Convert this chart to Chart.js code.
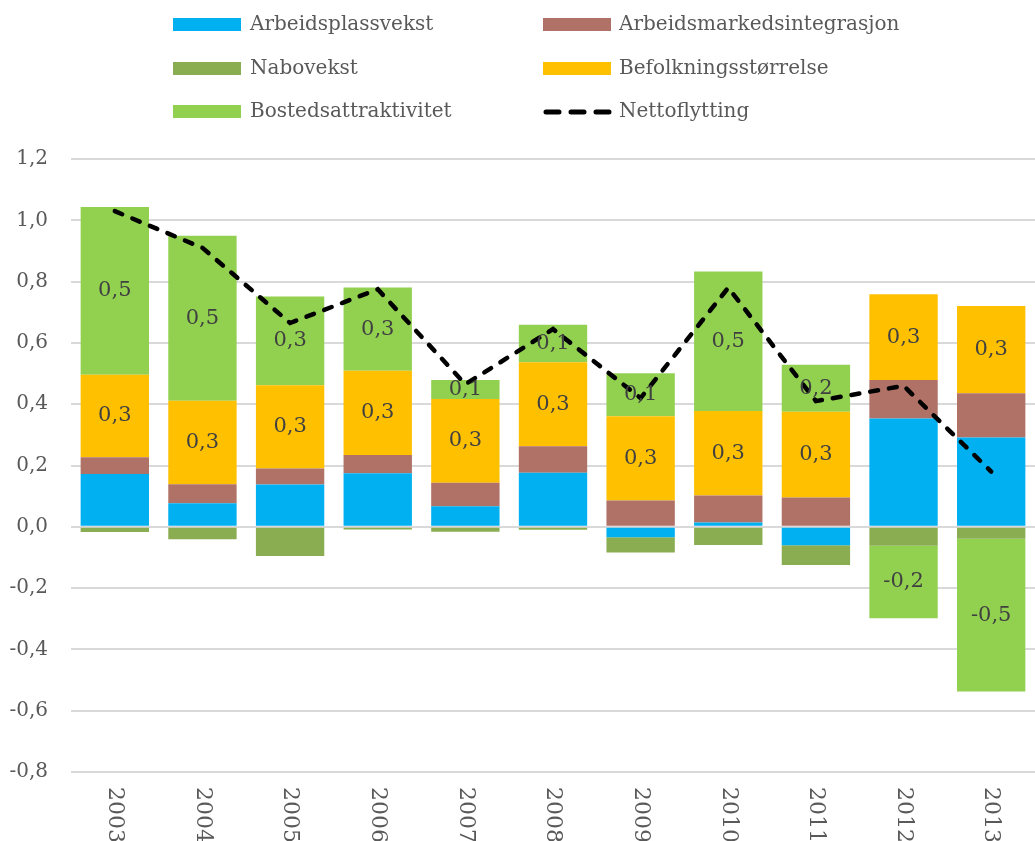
<!DOCTYPE html>
<html>
<head>
<meta charset="utf-8">
<title>Nettoflytting</title>
<script src="https://cdn.jsdelivr.net/npm/chart.js@4.4.1/dist/chart.umd.min.js"></script>
<style>
    html, body { margin: 0; padding: 0; background: #ffffff; }
    canvas { display: block; }
</style>
</head>
<body>
<canvas id="chart" width="1035" height="841"></canvas>
<script>
// Data
const years = ['2003', '2004', '2005', '2006', '2007', '2008', '2009', '2010', '2011', '2012', '2013'];
const arbeidsplassvekst = [0.172, 0.077, 0.138, 0.175, 0.067, 0.176, -0.034, 0.014, -0.060, 0.353, 0.291];
const arbeidsmarkedsintegrasjon = [0.055, 0.062, 0.052, 0.059, 0.077, 0.087, 0.086, 0.088, 0.096, 0.126, 0.145];
const nabovekst = [-0.017, -0.041, -0.095, -0.009, -0.016, -0.010, -0.050, -0.059, -0.065, -0.062, -0.039];
const befolkningsstorrelse = [0.269, 0.272, 0.272, 0.275, 0.273, 0.274, 0.275, 0.276, 0.279, 0.280, 0.284];
const bostedsattraktivitet = [0.547, 0.539, 0.289, 0.272, 0.062, 0.122, 0.140, 0.455, 0.154, -0.236, -0.498];
const nettoflytting = [1.03, 0.91, 0.665, 0.775, 0.465, 0.645, 0.42, 0.78, 0.41, 0.46, 0.18];
const yTicks = [-0.8, -0.6, -0.4, -0.2, 0, 0.2, 0.4, 0.6, 0.8, 1.0, 1.2];
const labelledSeries = ['Befolkningsstørrelse', 'Bostedsattraktivitet'];

const FONT = '"DejaVu Serif", serif';
const TEXT_GREY = '#595959';

function fmt(v) {
    if (Math.abs(v) < 1e-9) v = 0;
    return v.toFixed(1).replace('.', ',');
}

// Two-column legend at the top, filled row by row
const topLegend = {
    id: 'topLegend',
    afterDraw(chart) {
        const ctx = chart.ctx;
        const cols = [{ box: 173, text: 250 }, { box: 543, text: 619 }];
        const rows = [25, 69, 112];
        ctx.save();
        ctx.font = '20px ' + FONT;
        ctx.textBaseline = 'middle';
        ctx.textAlign = 'left';
        chart.data.datasets.forEach((ds, i) => {
            const c = cols[i % 2];
            const y = rows[Math.floor(i / 2)];
            if (ds.type === 'line') {
                ctx.strokeStyle = ds.borderColor;
                ctx.lineWidth = 5;
                ctx.lineCap = 'round';
                ctx.setLineDash([13, 12]);
                ctx.beginPath();
                ctx.moveTo(c.box + 3, y);
                ctx.lineTo(c.box + 68, y);
                ctx.stroke();
                ctx.setLineDash([]);
            } else {
                ctx.fillStyle = ds.backgroundColor;
                ctx.fillRect(c.box, y - 7, 68, 13);
            }
            ctx.fillStyle = TEXT_GREY;
            ctx.fillText(ds.label, c.text, y);
        });
        ctx.restore();
    }
};

// Values inside the two upper segments
const barValues = {
    id: 'barValues',
    afterDatasetsDraw(chart) {
        const ctx = chart.ctx;
        ctx.save();
        ctx.font = '21px ' + FONT;
        ctx.fillStyle = '#404040';
        ctx.textAlign = 'center';
        ctx.textBaseline = 'middle';
        chart.data.datasets.forEach((ds, i) => {
            if (!labelledSeries.includes(ds.label)) return;
            chart.getDatasetMeta(i).data.forEach((bar, j) => {
                ctx.fillText(fmt(ds.data[j]), bar.x, (bar.y + bar.base) / 2);
            });
        });
        ctx.restore();
    }
};

// Year labels turned clockwise under the plot
const yearLabels = {
    id: 'yearLabels',
    afterDraw(chart) {
        const ctx = chart.ctx;
        const xScale = chart.scales.x;
        const top = chart.chartArea.bottom + 15;
        ctx.save();
        ctx.font = '22px ' + FONT;
        ctx.fillStyle = TEXT_GREY;
        ctx.textAlign = 'left';
        ctx.textBaseline = 'middle';
        years.forEach((year, i) => {
            ctx.save();
            ctx.translate(xScale.getPixelForValue(i), top);
            ctx.rotate(Math.PI / 2);
            ctx.fillText(year, 0, 0);
            ctx.restore();
        });
        ctx.restore();
    }
};

function barSet(label, data, color) {
    return {
        type: 'bar',
        label: label,
        data: data,
        backgroundColor: color,
        borderWidth: 0,
        barPercentage: 0.78,
        categoryPercentage: 1,
        order: 1
    };
}

new Chart(document.getElementById('chart'), {
    data: {
        labels: years,
        datasets: [
            barSet('Arbeidsplassvekst', arbeidsplassvekst, '#00B0F0'),
            barSet('Arbeidsmarkedsintegrasjon', arbeidsmarkedsintegrasjon, '#B07166'),
            barSet('Nabovekst', nabovekst, '#8BAD52'),
            barSet('Befolkningsstørrelse', befolkningsstorrelse, '#FFC000'),
            barSet('Bostedsattraktivitet', bostedsattraktivitet, '#92D050'),
            {
                type: 'line',
                label: 'Nettoflytting',
                data: nettoflytting,
                borderColor: '#000000',
                borderWidth: 4.5,
                borderDash: [8, 11],
                borderCapStyle: 'round',
                pointRadius: 0,
                tension: 0,
                fill: false,
                order: 0
            }
        ]
    },
    options: {
        responsive: false,
        animation: false,
        layout: { padding: { top: 159, bottom: 69, left: 0, right: 0 } },
        plugins: {
            legend: { display: false },
            tooltip: { enabled: false }
        },
        scales: {
            x: {
                stacked: true,
                ticks: { display: false },
                grid: { display: false, drawTicks: false },
                border: { display: false },
                afterFit(scale) { scale.height = 0; }
            },
            y: {
                stacked: true,
                min: -0.8,
                max: 1.2,
                afterBuildTicks(scale) { scale.ticks = yTicks.map(v => ({ value: v })); },
                afterFit(scale) { scale.width = 71; },
                ticks: {
                    padding: 23,
                    color: TEXT_GREY,
                    font: { family: FONT, size: 20 },
                    callback: v => fmt(v)
                },
                grid: { color: '#d9d9d9', lineWidth: 2, drawTicks: false },
                border: { display: false }
            }
        }
    },
    plugins: [topLegend, barValues, yearLabels]
});
</script>
</body>
</html>
